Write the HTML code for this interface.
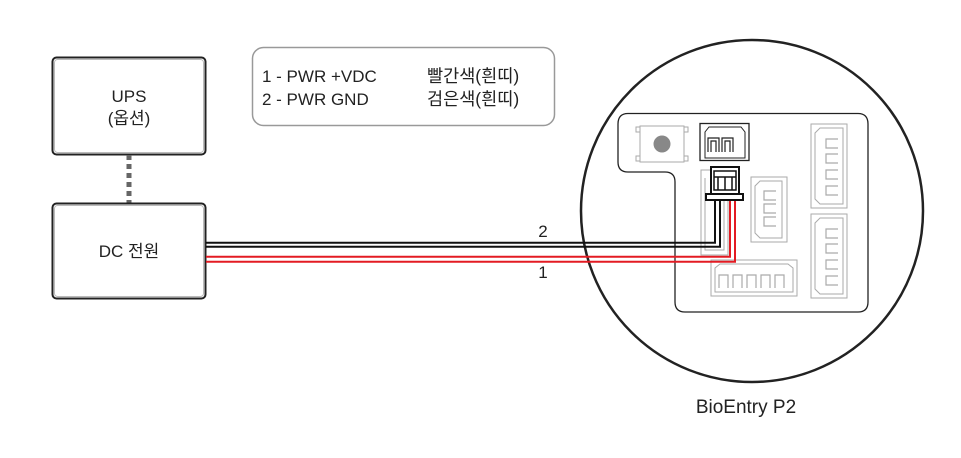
<!DOCTYPE html>
<html><head><meta charset="utf-8"><style>
html,body{margin:0;padding:0;background:#fff;}
svg{display:block;font-family:"Liberation Sans","Noto Sans CJK KR",sans-serif;}
</style></head><body>
<svg width="961" height="458" viewBox="0 0 961 458" xmlns="http://www.w3.org/2000/svg">
<rect x="52.5" y="57.5" width="153" height="97" rx="4" fill="#fff" stroke="#222" stroke-width="2"/>
<rect x="54.5" y="59.5" width="149" height="93" rx="3" fill="none" stroke="#bbb" stroke-width="1"/>
<text x="129" y="102" font-size="17" text-anchor="middle" fill="#222">UPS</text>
<text x="129" y="124" font-size="17" text-anchor="middle" fill="#222">(옵션)</text>
<line x1="129" y1="155" x2="129" y2="203" stroke="#666" stroke-width="5" stroke-dasharray="5,4"/>
<rect x="52.5" y="203.5" width="153" height="95" rx="4" fill="#fff" stroke="#222" stroke-width="2"/>
<rect x="54.5" y="205.5" width="149" height="91" rx="3" fill="none" stroke="#bbb" stroke-width="1"/>
<text x="129" y="257" font-size="17" text-anchor="middle" fill="#222">DC 전원</text>
<rect x="252.5" y="47.5" width="302" height="78" rx="11" fill="#fff" stroke="#999" stroke-width="1.5"/>
<text x="262" y="82" font-size="17" fill="#222">1 - PWR +VDC</text>
<text x="262" y="105" font-size="17" fill="#222">2 - PWR GND</text>
<text x="427" y="82" font-size="17.5" fill="#222">빨간색(흰띠)</text>
<text x="427" y="105" font-size="17.5" fill="#222">검은색(흰띠)</text>
<circle cx="752" cy="211" r="171" fill="#fff" stroke="#222" stroke-width="2.5"/>
<path d="M628,113.5 H858 Q868,113.5 868,124 V302 Q868,312 858,312 H685 Q675,312 675,302 V182 Q675,172 665,172 H628 Q618,172 618,162 V124 Q618,113.5 628,113.5 Z" fill="#fff" stroke="#222" stroke-width="1.3"/>
<rect x="640" y="126" width="44" height="36" fill="#fff" stroke="#aaa" stroke-width="1"/>
<rect x="636" y="127" width="4" height="5" fill="none" stroke="#aaa"/>
<rect x="636" y="156" width="4" height="5" fill="none" stroke="#aaa"/>
<rect x="684" y="127" width="4" height="5" fill="none" stroke="#aaa"/>
<rect x="684" y="156" width="4" height="5" fill="none" stroke="#aaa"/>
<circle cx="662" cy="144" r="8.5" fill="#888"/>
<rect x="700" y="123.5" width="49" height="37" fill="#fff" stroke="#222" stroke-width="1.3"/>
<path d="M705,158 V132 L709,127 H741 L745,132 V158 Z" fill="none" stroke="#222" stroke-width="1"/>
<path d="M708,152 V138 H719 V152 M711,152 V141 H716 V152 M722,152 V138 H733 V152 M725,152 V141 H730 V152" fill="none" stroke="#222" stroke-width="1.2"/>
<rect x="701" y="170" width="27" height="85" fill="none" stroke="#aaa" stroke-width="1"/>
<path d="M705,178 V250 H724 V178" fill="none" stroke="#aaa" stroke-width="1"/>
<rect x="751" y="177" width="36" height="65" fill="none" stroke="#aaa" stroke-width="1"/>
<path d="M755,186 L760,181 H782 V238 H760 L755,233 Z" fill="none" stroke="#aaa" stroke-width="1"/>
<path d="M776,191 H764 V200 H776 M776,204 H764 V213 H776 M776,217 H764 V226 H776" fill="none" stroke="#aaa" stroke-width="1.2"/>
<g fill="none" stroke="#aaa" stroke-width="1">
<rect x="811" y="124" width="36" height="84"/>
<path d="M815,133 L820,128 H843 V204 H820 L815,199 Z"/>
<path d="M838,139 H826 V148 H838 M838,154 H826 V163 H838 M838,170 H826 V179 H838 M838,186 H826 V195 H838" stroke-width="1.2"/>
<rect x="811" y="214" width="36" height="84"/>
<path d="M815,223 L820,218 H843 V294 H820 L815,289 Z"/>
<path d="M838,229 H826 V238 H838 M838,244 H826 V253 H838 M838,260 H826 V269 H838 M838,276 H826 V285 H838" stroke-width="1.2"/>
<rect x="711" y="260" width="86" height="36"/>
<path d="M715,268 L720,264 H788 L793,268 V292 H715 Z"/>
<path d="M719,288 V275 H728 V288 M733,288 V275 H742 V288 M747,288 V275 H756 V288 M761,288 V275 H770 V288 M775,288 V275 H784 V288" stroke-width="1.2"/>
</g>
<rect x="711" y="167" width="28" height="28" fill="#fff" stroke="#111" stroke-width="2"/>
<path d="M714,171 H736 V190 H714 Z M718,177 V190 M725,177 V190 M732,177 V190 M714,177 H736" fill="none" stroke="#111" stroke-width="1.5"/>
<rect x="706" y="194" width="37" height="6" fill="#fff" stroke="#111" stroke-width="2"/>
<path d="M206,242.7 H715 V201" fill="none" stroke="#111" stroke-width="2"/>
<path d="M206,246.7 H720 V201" fill="none" stroke="#111" stroke-width="2"/>
<path d="M206,256.7 H730 V201" fill="none" stroke="#e31b23" stroke-width="2"/>
<path d="M206,261.7 H735 V201" fill="none" stroke="#e31b23" stroke-width="2"/>
<text x="543" y="237" font-size="17" text-anchor="middle" fill="#222">2</text>
<text x="543" y="278" font-size="17" text-anchor="middle" fill="#222">1</text>
<text x="746" y="413" font-size="19" text-anchor="middle" fill="#222">BioEntry P2</text>
</svg>
</body></html>
